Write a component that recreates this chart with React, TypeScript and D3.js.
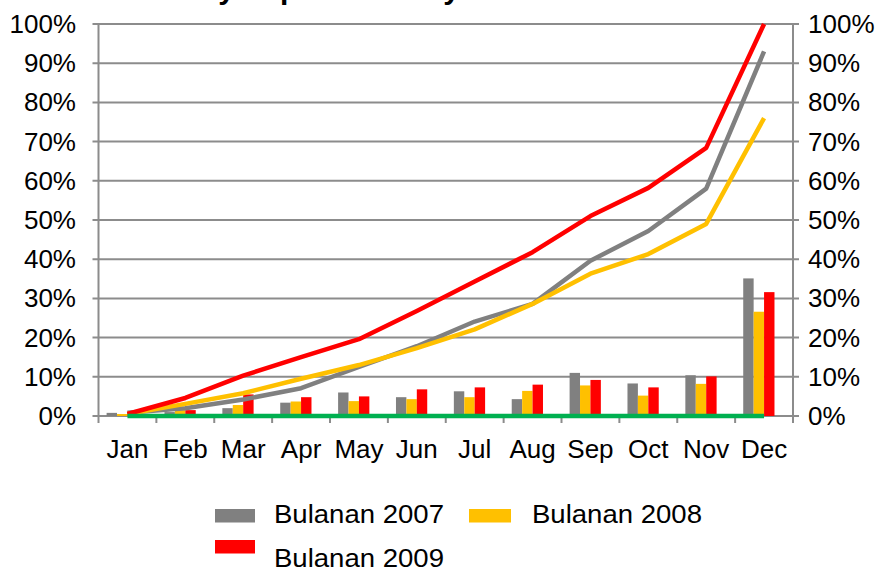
import React, { useEffect, useRef } from "react";
import * as d3 from "d3";

const months = ["Jan", "Feb", "Mar", "Apr", "May", "Jun", "Jul", "Aug", "Sep", "Oct", "Nov", "Dec"];

// monthly (bars), in %
const monthly2007 = [0.8, 1.0, 2.0, 3.4, 6.0, 4.8, 6.3, 4.3, 11.0, 8.3, 10.4, 35.1];
const monthly2008 = [0.5, 1.5, 2.8, 3.7, 3.8, 4.3, 4.8, 6.4, 7.8, 5.2, 8.2, 26.6];
const monthly2009 = [0.0, 1.5, 5.5, 4.8, 5.0, 6.8, 7.3, 8.0, 9.2, 7.3, 10.1, 31.6];
const monthlyZero = [0, 0, 0, 0, 0, 0, 0, 0, 0, 0, 0, 0];

// cumulative (lines), in %
const cumul2007 = [0.8, 2.0, 4.2, 7.1, 12.5, 17.8, 24.1, 28.6, 39.6, 47.2, 58.0, 93.0];
const cumul2008 = [0.5, 3.1, 5.8, 9.5, 13.0, 17.3, 22.1, 28.6, 36.3, 41.3, 49.0, 76.0];
const cumul2009 = [0.5, 4.6, 10.3, 15.0, 19.6, 26.8, 34.3, 41.8, 51.0, 58.2, 68.4, 100.0];

const yTicks = [0, 10, 20, 30, 40, 50, 60, 70, 80, 90, 100];
const legendLabels = ["Bulanan 2007", "Bulanan 2008", "Bulanan 2009"];

const GRAY = "#808080";
const YELLOW = "#ffc000";
const RED = "#ff0000";
const GREEN = "#00b050";
const GRID = "#8c8c8c";

const App: React.FC = () => {
  const svgRef = useRef<SVGSVGElement | null>(null);

  useEffect(() => {
    if (!svgRef.current) return;
    const svg = d3.select(svgRef.current);
    svg.selectAll("*").remove();

    const left = 98.5;
    const right = 793;
    const top = 24;
    const bottom = 416;
    const font = "Liberation Sans, Arial, sans-serif";

    const x = d3.scaleBand<string>().domain(months).range([left, right]).paddingInner(0.28).paddingOuter(0.14);
    const step = (right - left) / months.length;
    const xc = (m: string) => (x(m) ?? 0) + x.bandwidth() / 2;
    const y = d3.scaleLinear().domain([0, 100]).range([bottom, top]);

    const bars = [
      { vals: monthly2007, color: GRAY },
      { vals: monthly2008, color: YELLOW },
      { vals: monthly2009, color: RED },
      { vals: monthlyZero, color: GREEN },
    ];
    const sub = d3.scaleBand<number>().domain(d3.range(bars.length)).range([0, x.bandwidth()]);

    // partially visible title (cut off above)
    svg
      .append("text")
      .attr("x", 120)
      .attr("y", -1)
      .style("font-family", font)
      .style("font-weight", "bold")
      .style("font-size", "30px")
      .text("Monthly Expenditure by Year");

    // gridlines
    svg
      .append("g")
      .selectAll("line")
      .data(yTicks)
      .enter()
      .append("line")
      .attr("x1", left - 6)
      .attr("x2", right + 6)
      .attr("y1", (d) => y(d))
      .attr("y2", (d) => y(d))
      .attr("stroke", GRID)
      .attr("stroke-width", 2);

    // axis lines
    [left, right].forEach((ax) => {
      svg
        .append("line")
        .attr("x1", ax)
        .attr("x2", ax)
        .attr("y1", top)
        .attr("y2", bottom)
        .attr("stroke", GRID)
        .attr("stroke-width", 2);
    });

    // category ticks
    svg
      .append("g")
      .selectAll("line")
      .data(d3.range(months.length + 1))
      .enter()
      .append("line")
      .attr("x1", (i) => left + i * step)
      .attr("x2", (i) => left + i * step)
      .attr("y1", bottom)
      .attr("y2", bottom + 7)
      .attr("stroke", GRID)
      .attr("stroke-width", 2);

    // y labels left and right
    const yl = svg.append("g").style("font-family", font).style("font-size", "26px");
    yl.selectAll(".yl")
      .data(yTicks)
      .enter()
      .append("text")
      .attr("x", 76)
      .attr("y", (d) => y(d) + 9)
      .attr("text-anchor", "end")
      .text((d) => `${d}%`);
    yl.selectAll(".yr")
      .data(yTicks)
      .enter()
      .append("text")
      .attr("x", 808)
      .attr("y", (d) => y(d) + 9)
      .attr("text-anchor", "start")
      .text((d) => `${d}%`);

    // x labels
    svg
      .append("g")
      .style("font-family", font)
      .style("font-size", "26px")
      .selectAll("text")
      .data(months)
      .enter()
      .append("text")
      .attr("x", (d) => left + (months.indexOf(d) + 0.5) * step)
      .attr("y", 458)
      .attr("text-anchor", "middle")
      .text((d) => d);

    // bars
    bars.forEach((s, si) => {
      svg
        .append("g")
        .selectAll("rect")
        .data(s.vals)
        .enter()
        .append("rect")
        .attr("x", (_, i) => (x(months[i]) ?? 0) + (sub(si) ?? 0))
        .attr("y", (d) => y(d))
        .attr("width", sub.bandwidth())
        .attr("height", (d) => bottom - y(d))
        .attr("fill", s.color);
    });

    // cumulative lines
    const line = d3
      .line<number>()
      .x((_, i) => xc(months[i]))
      .y((d) => y(d));
    [
      { vals: cumul2007, color: GRAY },
      { vals: cumul2008, color: YELLOW },
      { vals: cumul2009, color: RED },
      { vals: monthlyZero, color: GREEN },
    ].forEach((s) => {
      svg
        .append("path")
        .datum(s.vals)
        .attr("d", line)
        .attr("fill", "none")
        .attr("stroke", s.color)
        .attr("stroke-width", 4.5)
        .attr("stroke-linejoin", "round");
    });

    // legend
    const legend = [
      { label: legendLabels[0], color: GRAY, rx: 215, rw: 40, ry: 509, tx: 274, ty: 523 },
      { label: legendLabels[1], color: YELLOW, rx: 469, rw: 42, ry: 509, tx: 532, ty: 523 },
      { label: legendLabels[2], color: RED, rx: 215, rw: 40, ry: 540, tx: 274, ty: 567 },
    ];
    const lg = svg.append("g").style("font-family", font).style("font-size", "26px");
    legend.forEach((l) => {
      lg.append("rect").attr("x", l.rx).attr("y", l.ry).attr("width", l.rw).attr("height", 13.5).attr("fill", l.color);
      lg.append("text")
        .attr("x", l.tx)
        .attr("y", l.ty)
        .attr("textLength", 170)
        .attr("lengthAdjust", "spacingAndGlyphs")
        .text(l.label);
    });
  }, []);

  return (
    <svg
      ref={svgRef}
      width={886}
      height={571}
      style={{ position: "absolute", left: 0, top: 0, background: "#fff" }}
    />
  );
};

export default App;
